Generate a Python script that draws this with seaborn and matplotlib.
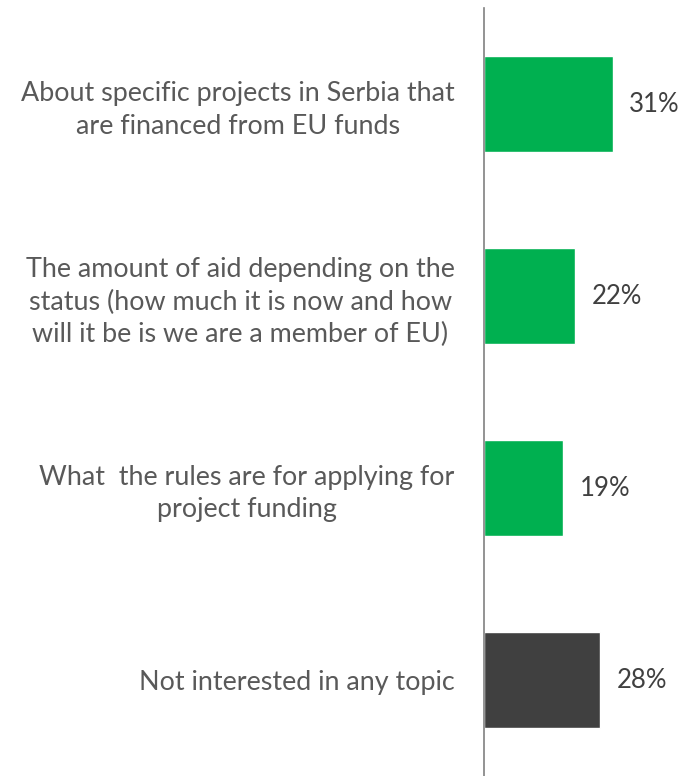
import matplotlib
matplotlib.use("Agg")
import matplotlib.pyplot as plt
import seaborn as sns
import pandas as pd

# chart data
topics = [
    "About specific projects in Serbia that\nare financed from EU funds",
    "The amount of aid depending on the\nstatus (how much it is now and how\nwill it be is we are a member of EU)",
    "What  the rules are for applying for\nproject funding",
    "Not interested in any topic",
]
shares = [31, 22, 19, 28]
bar_colors = ["#00B050", "#00B050", "#00B050", "#404040"]

df = pd.DataFrame({"topic": topics, "share": shares})

sns.set_style("white")
plt.rcParams['font.family'] = ['Lato', 'DejaVu Sans']

fig = plt.figure(figsize=(6.83, 7.76), dpi=100)
ax = fig.add_axes([484 / 683, 0, 199 / 683, 768 / 776])

sns.barplot(data=df, x="share", y="topic", hue="topic", palette=bar_colors,
            legend=False, width=0.5, ax=ax, saturation=1)

for cont in ax.containers:
    ax.bar_label(cont, fmt="%d%%", padding=12, fontsize=18.5, color="#404040")

ax.set_xlim(0, 48)
ax.set_ylim(3.5, -0.5)
ax.set_xlabel("")
ax.set_ylabel("")
ax.set_xticks([])
ax.tick_params(axis="y", length=0, pad=21, labelsize=19.4, labelcolor="#595959")
for lbl in ax.get_yticklabels():
    lbl.set_multialignment("center")
    lbl.set_linespacing(1.35)

for side in ["top", "right", "bottom"]:
    ax.spines[side].set_visible(False)
ax.spines["left"].set_color("#808080")
ax.spines["left"].set_linewidth(1.2)

fig.savefig("out.png", dpi=100)
